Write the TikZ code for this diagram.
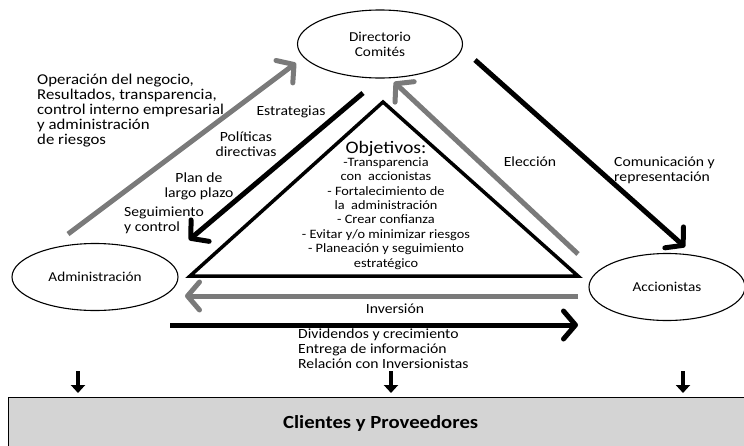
\documentclass[tikz,border=0pt]{standalone}
\usepackage{fontspec}
\setmainfont{Carlito}[FakeStretch=1.12]
\usetikzlibrary{arrows.meta,shapes.geometric}
\begin{document}
\begin{tikzpicture}[x=1pt,y=-1pt,
  txt/.style={font=\fontsize{14}{15}\selectfont, inner sep=0pt},
  actor/.style={draw, ellipse, line width=1.1pt, inner sep=0pt,
    font=\fontsize{13.6}{15}\selectfont, align=center},
  blackflow/.style={draw=black, line width=5pt,
    -{Straight Barb[length=12pt, width=28pt, round]}},
  grayflow/.style={draw=black!52, line width=5pt,
    -{Straight Barb[length=12pt, width=28pt, round]}},
  downflow/.style={draw=black, line width=4.5pt,
    -{Triangle[length=8pt, width=14pt]}},
  goalframe/.style={draw=black, line width=3.5pt, line join=miter}
]
\useasboundingbox (0,0) rectangle (744,445);
\clip (0,0) rectangle (744,445);

% the three actors
\node[actor, minimum width=165pt, minimum height=68pt] (dir) at (380,44)
  {Directorio\\Comités};
\node[actor, minimum width=166pt, minimum height=67pt] (adm) at (95,277)
  {Administración};
\node[actor, minimum width=156pt, minimum height=67pt] (acc) at (667,287)
  {Accionistas};

% central triangle of objectives
\coordinate (triTop) at (383,102);
\coordinate (triL) at (190,276);
\coordinate (triR) at (578,276);
\draw[goalframe] (triTop) -- (triL) -- (triR) -- cycle;
\node[inner sep=0pt, anchor=north, align=center,
  font=\fontsize{12.8}{14.4}\selectfont] (goals) at (386,141)
  {{\fontsize{17.6}{17}\selectfont Objetivos:}\\[-1.5pt]
   -Transparencia\\
   con\ \ accionistas\\
   - Fortalecimiento de\\
   la\ \ administración\\
   - Crear confianza\\
   - Evitar y/o minimizar riesgos\\
   - Planeación y seguimiento\\
   estratégico};

% flow end points
\coordinate (opTail) at (68,234);
\coordinate (opTip) at (296,63);
\coordinate (stTail) at (363,93);
\coordinate (stTip) at (189,240);
\coordinate (elTail) at (578,254);
\coordinate (elTip) at (394,82);
\coordinate (coTail) at (475,60);
\coordinate (coTip) at (685,247);
\coordinate (invTail) at (578,296);
\coordinate (invTip) at (185,296);
\coordinate (divTail) at (170,325);
\coordinate (divTip) at (578,325);

\draw[grayflow] (opTail) -- (opTip);
\draw[blackflow] (stTail) -- (stTip);
\draw[grayflow] (elTail) -- (elTip);
\draw[blackflow] (coTail) -- (coTip);
\draw[grayflow] (invTail) -- (invTip);
\draw[blackflow] (divTail) -- (divTip);

% flow labels
\node[txt, anchor=north west, align=left, font=\fontsize{15}{15}\selectfont]
  (opLbl) at (37,74)
  {Operación del negocio,\\Resultados, transparencia,\\control interno empresarial\\y administración\\de riesgos};
\node[txt] (estLbl) at (291,112) {Estrategias};
\node[txt, align=center] (polLbl) at (246,144) {Políticas\\directivas};
\node[txt, align=center] (planLbl) at (199,186) {Plan de\\largo plazo};
\node[txt, anchor=west, align=left] (segLbl) at (124,220) {Seguimiento\\y control};
\node[txt] (elLbl) at (530,162) {Elección};
\node[txt, anchor=west, align=left] (coLbl) at (614,170) {Comunicación y\\representación};
\node[txt] (invLbl) at (395,309) {Inversión};
\node[txt, anchor=north west, align=left] (divLbl) at (298,329)
  {Dividendos y crecimiento\\Entrega de información\\Relación con Inversionistas};

% customers and suppliers band
\node[draw=black, line width=1.3pt, fill=black!17, anchor=north west,
  minimum width=744pt, minimum height=52pt, inner sep=0pt,
  font=\bfseries\fontsize{18.5}{18}\selectfont] (cli) at (8,397)
  {Clientes y Proveedores};
\coordinate (d1) at (78,371);
\coordinate (d2) at (391,371);
\coordinate (d3) at (683,371);
\draw[downflow, shorten >=4pt] (d1) -- (d1 |- cli.north);
\draw[downflow, shorten >=4pt] (d2) -- (d2 |- cli.north);
\draw[downflow, shorten >=4pt] (d3) -- (d3 |- cli.north);
\end{tikzpicture}
\end{document}
